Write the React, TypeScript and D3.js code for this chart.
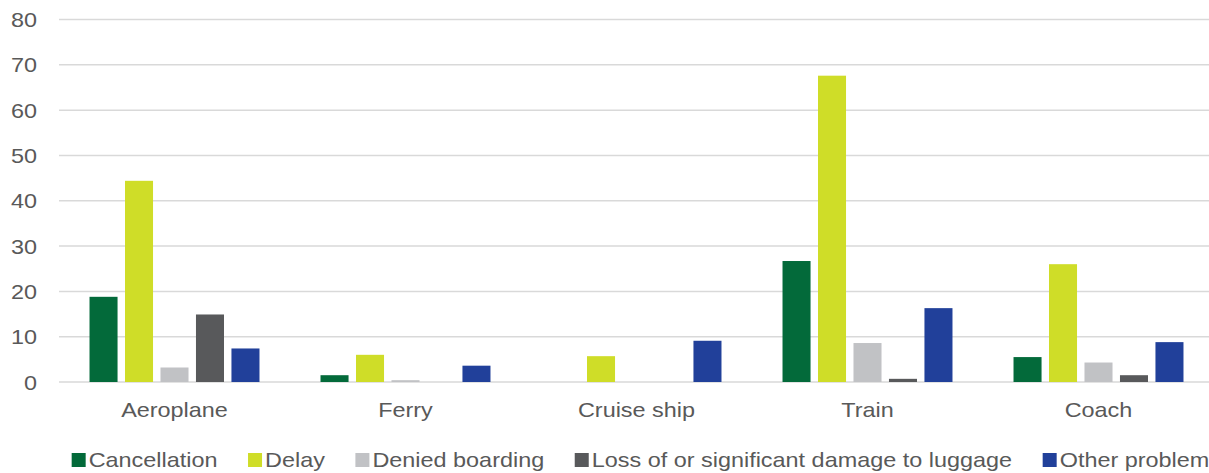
import React, { useMemo } from "react";
import * as d3 from "d3";

// Transport modes on the x axis
const categories = ["Aeroplane", "Ferry", "Cruise ship", "Train", "Coach"];

// Problem types (series)
const seriesNames = [
  "Cancellation",
  "Delay",
  "Denied boarding",
  "Loss of or significant damage to luggage",
  "Other problem",
];

const seriesColors = ["#036a3a", "#cfdd28", "#c1c2c5", "#58595b", "#21409a"];

// Values per series, in the order of the categories
const cancellation = [18.8, 1.5, 0, 26.7, 5.5];
const delay = [44.4, 6.0, 5.7, 67.6, 26.0];
const deniedBoarding = [3.2, 0.4, 0, 8.6, 4.3];
const luggage = [14.9, 0, 0, 0.7, 1.5];
const otherProblem = [7.4, 3.6, 9.1, 16.3, 8.8];

const seriesValues = [cancellation, delay, deniedBoarding, luggage, otherProblem];

const yTicks = [0, 10, 20, 30, 40, 50, 60, 70, 80];

const W = 1209;
const H = 473;
const FONT = "'Liberation Sans', Arial, sans-serif";
const FS = 21;
const STRETCH = 1.115;
const TEXT = "#595959";

function measure(text: string): number {
  const c = document.createElement("canvas").getContext("2d");
  if (!c) return text.length * FS * 0.55;
  c.font = `${FS}px ${FONT}`;
  return c.measureText(text).width * STRETCH;
}

export default function App() {
  const x = d3.scaleBand<string>().domain(categories).range([59, 1214]).padding(0);
  const inner = d3
    .scaleBand<string>()
    .domain(seriesNames)
    .range([0, x.bandwidth()])
    .paddingInner(0.21)
    .paddingOuter(0.86);
  const y = d3.scaleLinear().domain([0, 80]).range([382, 19.5]);

  // Legend layout: square, small gap, label, then spacing to the next item
  const legend = useMemo(() => {
    const sq = 14;
    const gap = 3;
    const spacing = 30.5;
    const widths = seriesNames.map((s) => sq + gap + measure(s));
    const total = d3.sum(widths) + spacing * (seriesNames.length - 1);
    let cx = 640.5 - total / 2;
    return seriesNames.map((s, i) => {
      const item = { name: s, x: cx, color: seriesColors[i] };
      cx += widths[i] + spacing;
      return item;
    });
  }, []);

  return (
    <svg
      width={W}
      height={H}
      style={{ position: "absolute", left: 0, top: 0, background: "#fff" }}
      fontFamily={FONT}
    >
      {/* gridlines and y labels */}
      {yTicks.map((t) => (
        <g key={t}>
          <line x1={59} x2={W} y1={y(t)} y2={y(t)} stroke="#d9d9d9" strokeWidth={1.5} />
          <text
            transform={`translate(37,${y(t) + 7.5}) scale(${STRETCH},1)`}
            textAnchor="end"
            fontSize={FS}
            fill={TEXT}
          >
            {t}
          </text>
        </g>
      ))}

      {/* bars */}
      {categories.map((c, ci) => (
        <g key={c} transform={`translate(${x(c)},0)`}>
          {seriesNames.map((s, si) => {
            const v = seriesValues[si][ci];
            if (!v) return null;
            return (
              <rect
                key={s}
                x={inner(s)}
                y={y(v)}
                width={inner.bandwidth()}
                height={y(0) - y(v)}
                fill={seriesColors[si]}
              />
            );
          })}
        </g>
      ))}

      {/* category labels */}
      {categories.map((c) => (
        <text
          key={c}
          transform={`translate(${(x(c) ?? 0) + x.bandwidth() / 2},416.5) scale(${STRETCH},1)`}
          textAnchor="middle"
          fontSize={FS}
          fill={TEXT}
        >
          {c}
        </text>
      ))}

      {/* legend */}
      {legend.map((l) => (
        <g key={l.name}>
          <rect x={l.x} y={453} width={14} height={14} fill={l.color} />
          <text
            transform={`translate(${l.x + 17},467) scale(${STRETCH},1)`}
            fontSize={FS}
            fill={TEXT}
          >
            {l.name}
          </text>
        </g>
      ))}
    </svg>
  );
}
